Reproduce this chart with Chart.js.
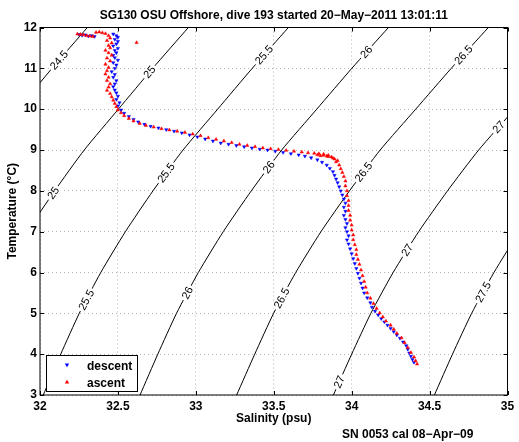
<!DOCTYPE html>
<html>
<head>
<meta charset="utf-8">
<script src="https://cdn.jsdelivr.net/npm/chart.js@4.4.0/dist/chart.umd.min.js"></script>
<style>
  html, body { margin: 0; padding: 0; background: #fff; }
  #wrap { width: 519px; height: 442px; }
</style>
</head>
<body>
<div id="wrap"><canvas id="tsChart" width="519" height="442"></canvas></div>
<script>
// salinity / temperature samples
const descentS = [32.25,32.27,32.29,32.31,32.33,32.35,
  32.47,32.49,32.50,32.48,32.50,32.49,32.47,32.50,32.48,32.49,32.47,32.48,32.50,32.47,32.49,32.48,32.46,32.48,32.47,32.49,32.48,32.47,32.48,32.49,32.50,32.49,32.51,32.50,
  32.52,32.54,32.57,32.60,32.63,32.67,32.71,32.76,32.81,32.86,32.91,32.96,33.01,33.06,33.11,33.16,33.21,33.26,33.31,33.36,33.41,33.46,33.51,33.56,33.61,33.66,33.70,33.74,33.78,33.81,33.84,33.86,33.88,33.89,33.90,33.91,33.92,33.93,33.94,33.95,33.96,33.95,33.96,
  33.95,33.96,33.97,33.96,33.97,33.98,33.97,33.98,33.99,34.00,34.01,34.02,34.03,34.04,34.05,34.06,34.07,34.08,34.10,34.12,34.13,34.15,34.17,34.19,34.21,34.23,34.25,34.27,34.29,34.31,34.33,34.35,34.36,34.37,34.38,34.39,34.40];
const descentT = [11.83,11.81,11.82,11.79,11.80,11.78,
  11.84,11.80,11.76,11.71,11.66,11.60,11.55,11.49,11.44,11.38,11.32,11.26,11.20,11.14,11.08,11.00,10.92,10.85,10.78,10.70,10.62,10.55,10.47,10.40,10.32,10.24,10.16,10.08,
  9.98,9.90,9.82,9.75,9.69,9.63,9.58,9.54,9.50,9.46,9.42,9.37,9.32,9.27,9.22,9.17,9.14,9.11,9.08,9.05,9.02,9.00,8.97,8.94,8.91,8.88,8.85,8.81,8.76,8.70,8.63,8.55,8.47,8.38,8.29,8.20,8.10,8.00,7.90,7.80,7.70,7.60,7.50,
  7.40,7.30,7.20,7.10,7.00,6.90,6.80,6.70,6.58,6.46,6.34,6.22,6.10,5.98,5.86,5.74,5.62,5.50,5.38,5.26,5.15,5.05,4.96,4.87,4.79,4.71,4.63,4.55,4.47,4.39,4.30,4.21,4.12,4.03,3.95,3.87,3.80];

const ascentS = [32.24,32.26,32.28,32.30,32.32,32.34,32.36,32.38,32.40,32.42,
  32.44,32.45,32.43,32.46,32.44,32.45,32.42,32.44,32.46,32.43,32.45,32.42,32.44,32.43,32.42,32.44,32.43,32.45,32.44,32.43,32.45,32.46,32.47,32.48,32.49,
  32.62,
  32.50,32.52,32.54,32.57,32.60,32.64,32.68,32.73,32.78,32.83,32.88,32.93,32.98,33.03,33.08,33.13,33.18,33.23,33.28,33.33,33.38,33.43,33.48,33.53,33.58,33.63,33.68,33.72,33.76,33.79,33.82,33.85,33.87,33.89,33.90,33.92,33.93,33.94,33.95,33.96,33.96,33.97,33.97,33.98,
  33.78,33.82,33.85,33.88,33.91,33.80,33.84,
  33.98,33.98,33.99,33.99,34.00,34.00,34.01,34.01,34.02,34.03,34.03,34.04,34.05,34.06,34.07,34.08,34.09,34.10,34.12,34.14,34.16,34.18,34.20,34.22,34.25,34.27,34.29,34.32,34.34,34.36,34.38,34.40,34.41,34.42];
const ascentT = [11.84,11.83,11.82,11.80,11.79,11.78,11.88,11.89,11.87,11.85,
  11.80,11.74,11.68,11.62,11.56,11.50,11.44,11.38,11.32,11.25,11.18,11.10,11.02,10.94,10.86,10.78,10.70,10.62,10.54,10.46,10.38,10.30,10.22,10.14,10.06,
  11.63,
  9.98,9.91,9.84,9.77,9.71,9.65,9.60,9.56,9.52,9.49,9.46,9.43,9.39,9.35,9.30,9.26,9.22,9.18,9.14,9.11,9.08,9.05,9.03,9.01,8.99,8.97,8.95,8.93,8.92,8.91,8.90,8.87,8.83,8.78,8.71,8.63,8.54,8.45,8.35,8.24,8.12,8.00,7.88,7.76,
  8.88,8.87,8.84,8.80,8.74,8.86,8.85,
  7.64,7.52,7.40,7.28,7.16,7.04,6.92,6.80,6.68,6.56,6.44,6.32,6.20,6.06,5.92,5.78,5.64,5.50,5.37,5.24,5.12,5.01,4.91,4.81,4.71,4.61,4.51,4.40,4.28,4.16,4.04,3.93,3.84,3.76];

// density (sigma-theta) contours, salinity read at each whole degree
const contourT = [12, 11, 10, 9, 8, 7, 6, 5, 4, 3];
const sig245 = [32.304, 32.077, 31.860, 31.643, 31.455, 31.281, 31.127, 30.992, 30.876, 30.766];
const sig25  = [32.952, 32.723, 32.503, 32.284, 32.094, 31.918, 31.762, 31.626, 31.509, 31.398];
const sig255 = [33.594, 33.362, 33.140, 32.918, 32.725, 32.548, 32.390, 32.252, 32.133, 32.021];
const sig26  = [34.236, 34.001, 33.776, 33.551, 33.356, 33.176, 33.016, 32.876, 32.756, 32.642];
const sig265 = [34.877, 34.639, 34.411, 34.183, 33.986, 33.803, 33.641, 33.499, 33.378, 33.262];
const sig27  = [35.517, 35.276, 35.045, 34.815, 34.615, 34.430, 34.266, 34.123, 34.000, 33.883];
const sig275 = [36.157, 35.917, 35.688, 35.458, 35.259, 35.076, 34.913, 34.770, 34.647, 34.531];

const contourNames = ['24.5', '25', '25.5', '26', '26.5', '27', '27.5'];
const contourSal = [sig245, sig25, sig255, sig26, sig265, sig27, sig275];
// temperatures where the inline labels sit on each contour
const labelTemps = [[11.2], [10.91, 7.95], [11.33, 8.44, 5.33], [11.4, 8.58, 5.5], [11.33, 8.46, 5.37], [9.56, 6.55, 3.32], [5.52]];

const salTicks = [32, 32.5, 33, 33.5, 34, 34.5, 35];
const tempTicks = [3, 4, 5, 6, 7, 8, 9, 10, 11, 12];

const FONT = '"Liberation Sans", Arial, Helvetica, sans-serif';
Chart.defaults.font.family = FONT;

function pairs(xs, ys) {
  return xs.map((x, i) => ({ x: x, y: ys[i] }));
}

function salAt(arr, t) {
  for (let i = 0; i < contourT.length - 1; i++) {
    const t0 = contourT[i], t1 = contourT[i + 1];
    if (t <= t0 && t >= t1) {
      const f = (t0 - t) / (t0 - t1);
      return arr[i] + f * (arr[i + 1] - arr[i]);
    }
  }
  return arr[arr.length - 1];
}

const datasets = [
  {
    label: 'descent', type: 'scatter', data: pairs(descentS, descentT), order: 2,
    pointStyle: 'triangle', pointRotation: 180, pointRadius: 1.9,
    backgroundColor: '#0000ff', borderColor: '#0000ff', borderWidth: 0.5
  },
  {
    label: 'ascent', type: 'scatter', data: pairs(ascentS, ascentT), order: 1,
    pointStyle: 'triangle', pointRadius: 1.9,
    backgroundColor: '#ff0000', borderColor: '#ff0000', borderWidth: 0.5
  }
];
contourSal.forEach((arr, k) => {
  datasets.push({
    label: 'sigma ' + contourNames[k], type: 'line', data: pairs(arr, contourT), order: 3,
    borderColor: '#000', borderWidth: 1, pointRadius: 0, fill: false, tension: 0.2
  });
});

const decor = {
  id: 'decor',
  beforeDatasetDraw(chart, args) {
    if (args.index !== 0) return;
    const ctx = chart.ctx, xs = chart.scales.x, ys = chart.scales.y, ca = chart.chartArea;
    ctx.save();
    ctx.beginPath();
    ctx.rect(ca.left, ca.top, ca.right - ca.left, ca.bottom - ca.top);
    ctx.clip();
    ctx.font = '11px ' + FONT;
    contourSal.forEach((arr, k) => {
      labelTemps[k].forEach(t => {
        const px = xs.getPixelForValue(salAt(arr, t));
        const py = ys.getPixelForValue(t);
        const ax = xs.getPixelForValue(salAt(arr, t - 0.3)), ay = ys.getPixelForValue(t - 0.3);
        const bx = xs.getPixelForValue(salAt(arr, t + 0.3)), by = ys.getPixelForValue(t + 0.3);
        const ang = Math.atan2(by - ay, bx - ax);
        const w = ctx.measureText(contourNames[k]).width;
        ctx.save();
        ctx.translate(px, py);
        ctx.rotate(ang);
        ctx.fillStyle = '#fff';
        ctx.fillRect(-w / 2 - 2, -5, w + 4, 10);
        ctx.fillStyle = '#000';
        ctx.textAlign = 'center';
        ctx.textBaseline = 'middle';
        ctx.fillText(contourNames[k], 0, 0.5);
        ctx.restore();
      });
    });
    ctx.restore();
  },
  afterDraw(chart) {
    const ctx = chart.ctx, xs = chart.scales.x, ys = chart.scales.y, ca = chart.chartArea;
    ctx.save();
    // box and inward ticks
    ctx.strokeStyle = '#000';
    ctx.lineWidth = 1;
    ctx.strokeRect(ca.left, ca.top, ca.right - ca.left, ca.bottom - ca.top);
    ctx.beginPath();
    salTicks.forEach(v => {
      const x = Math.round(xs.getPixelForValue(v)) + 0.5;
      ctx.moveTo(x, ca.bottom); ctx.lineTo(x, ca.bottom - 4);
      ctx.moveTo(x, ca.top); ctx.lineTo(x, ca.top + 4);
    });
    tempTicks.forEach(v => {
      const y = Math.round(ys.getPixelForValue(v)) + 0.5;
      ctx.moveTo(ca.left, y); ctx.lineTo(ca.left + 4, y);
      ctx.moveTo(ca.right, y); ctx.lineTo(ca.right - 4, y);
    });
    ctx.stroke();

    // texts
    const cx = (ca.left + ca.right) / 2;
    ctx.fillStyle = '#000';
    ctx.textAlign = 'center';
    ctx.textBaseline = 'alphabetic';
    ctx.font = 'bold 12px ' + FONT;
    ctx.fillText('SG130 OSU Offshore, dive 193 started 20\u2212May\u22122011 13:01:11', cx, 18.5);
    ctx.fillText('Salinity (psu)', cx, 422);
    ctx.textAlign = 'left';
    ctx.fillText('SN 0053 cal 08\u2212Apr\u221209', 342, 438);
    ctx.save();
    ctx.translate(16, (ca.top + ca.bottom) / 2);
    ctx.rotate(-Math.PI / 2);
    ctx.textAlign = 'center';
    ctx.fillText('Temperature (\u00B0C)', 0, 0);
    ctx.restore();

    // legend box
    const lx = ca.left + 6, ly = ca.bottom - 40;
    ctx.fillStyle = '#fff';
    ctx.fillRect(lx, ly, 91, 36);
    ctx.strokeRect(lx + 0.5, ly + 0.5, 91, 36);
    const drawTri = (x, y, up, color) => {
      ctx.fillStyle = color;
      ctx.beginPath();
      if (up) { ctx.moveTo(x, y - 2.2); ctx.lineTo(x + 2.2, y + 1.6); ctx.lineTo(x - 2.2, y + 1.6); }
      else { ctx.moveTo(x, y + 2.2); ctx.lineTo(x + 2.2, y - 1.6); ctx.lineTo(x - 2.2, y - 1.6); }
      ctx.closePath();
      ctx.fill();
    };
    drawTri(lx + 21, ly + 10, false, '#0000ff');
    drawTri(lx + 21, ly + 27, true, '#ff0000');
    ctx.fillStyle = '#000';
    ctx.textAlign = 'left';
    ctx.font = 'bold 12px ' + FONT;
    ctx.fillText('descent', lx + 41, ly + 15);
    ctx.fillText('ascent', lx + 41, ly + 32);
    ctx.restore();
  }
};

new Chart(document.getElementById('tsChart').getContext('2d'), {
  type: 'scatter',
  data: { datasets: datasets },
  options: {
    responsive: false,
    animation: false,
    devicePixelRatio: 1,
    layout: { padding: { left: 0, top: 27.5, right: 11.5, bottom: 0 } },
    plugins: { legend: { display: false }, tooltip: { enabled: false }, title: { display: false } },
    scales: {
      x: {
        type: 'linear', min: 32, max: 35,
        afterFit(scale) { scale.height = 47; },
        ticks: { stepSize: 0.5, color: '#000', padding: 4, font: { size: 12, weight: 'bold' },
                 callback: v => String(v) },
        grid: { color: '#b4b4b4', drawTicks: false, lineWidth: 1 },
        border: { display: false, dash: [1, 3] }
      },
      y: {
        type: 'linear', min: 3, max: 12,
        afterFit(scale) { scale.width = 40; },
        ticks: { stepSize: 1, color: '#000', padding: 3, font: { size: 12, weight: 'bold' },
                 callback: v => String(v) },
        grid: { color: '#b4b4b4', drawTicks: false, lineWidth: 1 },
        border: { display: false, dash: [1, 3] }
      }
    }
  },
  plugins: [decor]
});
</script>
</body>
</html>
